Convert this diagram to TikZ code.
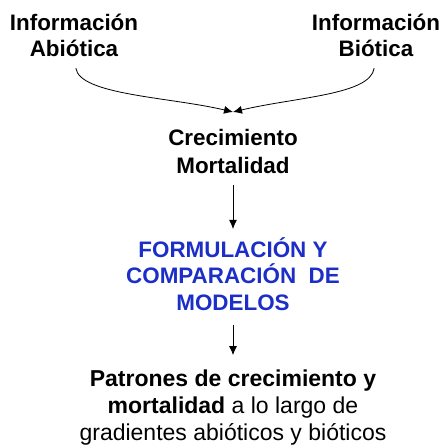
\documentclass[tikz,border=0pt]{standalone}
\usepackage{fontspec}
\setmainfont{Liberation Sans}
\usepackage{tikz}
\usetikzlibrary{positioning,arrows.meta}
\definecolor{azul}{RGB}{28,46,200}
\tikzstyle{caja}=[align=center, inner sep=0pt, anchor=base, font=\fontsize{23}{27}\selectfont]
\tikzstyle{negrita}=[caja, font=\fontsize{22.4}{25.5}\selectfont\bfseries]
\tikzstyle{flecha}=[-{Latex[length=9pt,width=8pt]}, line width=0.8pt]

\begin{document}
\begin{tikzpicture}[x=1pt, y=1pt]
\useasboundingbox (0,0) rectangle (447,-445);
\node[negrita] (abio) at (74,-56) {Información\\Abiótica};
\node[negrita] (bio) at (376,-56) {Información\\Biótica};
\node[negrita, font=\fontsize{22.4}{28}\selectfont\bfseries] (crec) at (233,-173) {Crecimiento\\Mortalidad};
\node[negrita, font=\fontsize{22.4}{26.5}\selectfont\bfseries, text=azul] (model) at (233,-310) {FORMULACIÓN Y\\COMPARACIÓN~ DE\\MODELOS};
\node[caja] (patron) at (233,-440) {\textbf{Patrones de crecimiento y}\\\textbf{mortalidad} a lo largo de\\gradientes abióticos y bióticos};
\coordinate (m) at (233,-112);
\draw[flecha, shorten <=12pt] (abio.south) .. controls (80,-95) and (170,-97) .. (m);
\draw[flecha, shorten <=12pt] (bio.south) .. controls (370,-95) and (296,-97) .. (m);
\draw[flecha, shorten <=12pt, shorten >=8pt] (crec) -- (model);
\draw[flecha, shorten <=15pt, shorten >=14pt] (model) -- (patron);
\end{tikzpicture}
\end{document}
